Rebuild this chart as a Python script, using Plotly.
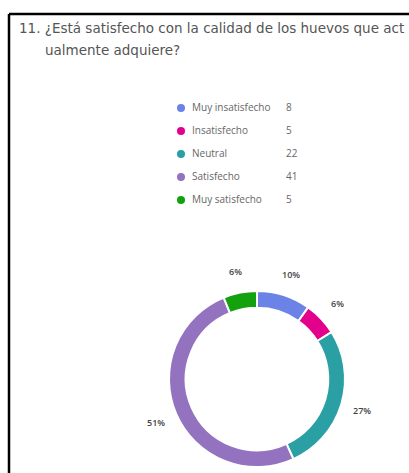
import math
import plotly.graph_objects as go

# Survey responses for question 11
categories = ["Muy insatisfecho", "Insatisfecho", "Neutral", "Satisfecho", "Muy satisfecho"]
counts = [8, 5, 22, 41, 5]
colors = ["#6b83e6", "#e3008c", "#2aa0a4", "#9373c0", "#13a10e"]

title_line1 = "11. ¿Está satisfecho con la calidad de los huevos que act"
title_line2 = "ualmente adquiere?"

W, H = 409, 473
FONT = "Open Sans"

fig = go.Figure()

# Donut chart, clockwise from 12 o'clock
cx, cy, r = 257, 379, 88
fig.add_trace(go.Pie(
    labels=categories,
    values=counts,
    sort=False,
    direction="clockwise",
    rotation=0,
    hole=0.81,
    marker=dict(colors=colors, line=dict(color="white", width=2)),
    textinfo="none",
    showlegend=False,
    hoverinfo="label+value+percent",
    domain=dict(x=[(cx - r) / W, (cx + r) / W], y=[1 - (cy + r) / H, 1 - (cy - r) / H]),
))

# Percentage labels placed outside the ring at each slice's mid-angle
total = sum(counts)
label_r = 110
annotations = []
cum = 0
for v in counts:
    mid = (cum + v / 2) / total * 2 * math.pi
    cum += v
    lx = cx + label_r * math.sin(mid)
    ly = cy - label_r * math.cos(mid)
    annotations.append(dict(
        text=f"{round(100 * v / total)}%", xref="paper", yref="paper",
        x=lx / W, y=1 - ly / H, xanchor="center", yanchor="middle", showarrow=False,
        font=dict(family=FONT, size=9, color="#444444", weight=600),
    ))

# Custom legend: coloured dots, labels and counts
row_y = [108 + 23 * i for i in range(len(categories))]
fig.add_trace(go.Scatter(
    x=[181] * len(categories), y=row_y, mode="markers",
    marker=dict(color=colors, size=8),
    showlegend=False, hoverinfo="skip",
))
fig.add_trace(go.Scatter(
    x=[192] * len(categories), y=row_y, mode="text",
    text=categories, textposition="middle right",
    textfont=dict(family=FONT, size=10, color="#666666"),
    showlegend=False, hoverinfo="skip",
))
fig.add_trace(go.Scatter(
    x=[286] * len(categories), y=row_y, mode="text",
    text=[str(v) for v in counts], textposition="middle right",
    textfont=dict(family=FONT, size=10, color="#666666"),
    showlegend=False, hoverinfo="skip",
))

annotations += [
    dict(text=title_line1, xref="paper", yref="paper", x=17 / W, y=1 - 28 / H,
         xanchor="left", yanchor="middle", showarrow=False,
         font=dict(family="DejaVu Sans", size=13.5, color="#555555")),
    dict(text=title_line2, xref="paper", yref="paper", x=43 / W, y=1 - 50 / H,
         xanchor="left", yanchor="middle", showarrow=False,
         font=dict(family="DejaVu Sans", size=13.5, color="#555555")),
]

fig.update_layout(
    width=W, height=H,
    margin=dict(l=0, r=0, t=0, b=0),
    paper_bgcolor="white", plot_bgcolor="rgba(0,0,0,0)",
    xaxis=dict(range=[0, W], visible=False, domain=[0, 1], fixedrange=True),
    yaxis=dict(range=[H, 0], visible=False, domain=[0, 1], fixedrange=True),
    shapes=[
        dict(type="line", xref="paper", yref="paper", x0=9 / W, x1=1, y0=1 - 14 / H, y1=1 - 14 / H,
             line=dict(color="black", width=2.5)),
        dict(type="line", xref="paper", yref="paper", x0=9 / W, x1=9 / W, y0=0, y1=1 - 14 / H,
             line=dict(color="black", width=2.5)),
    ],
    annotations=annotations,
)

fig.write_html("out.html")
